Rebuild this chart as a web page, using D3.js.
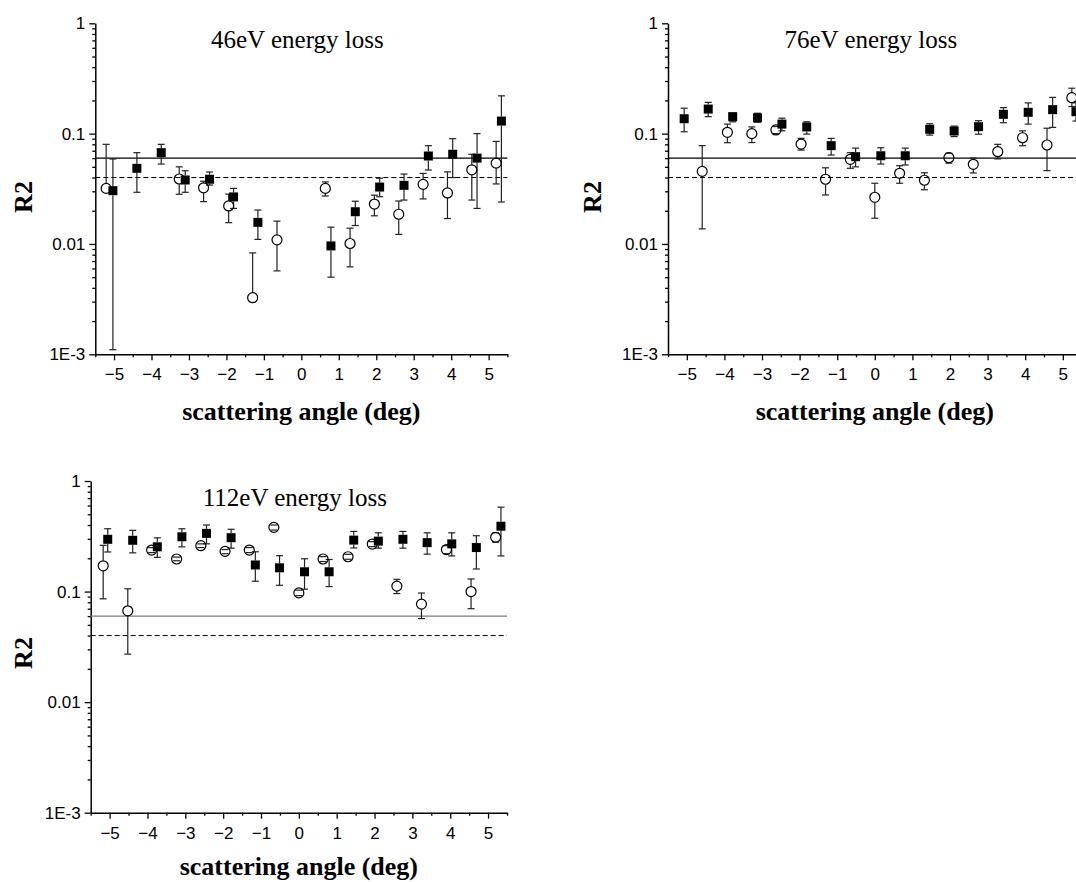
<!DOCTYPE html>
<meta charset="utf-8">
<style>
body { margin: 0; background: #fff; }
svg { display: block; }
.tick text { font-family: "Liberation Sans", Arial, sans-serif; font-size: 17px; }
</style>
<script src="https://d3js.org/d3.v7.min.js"></script>
<body>
<div id="chart"></div>
<script>
// angle (deg), R2, lower end of error bar, upper end (null = no bar drawn)
var sq46 = [
  [-5.03, 0.0304, 0.0011, 0.0589], [-4.39, 0.0485, 0.0294, 0.0672], [-3.74, 0.0672, 0.053, 0.080],
  [-3.10, 0.038, 0.0294, 0.0461], [-2.45, 0.0386, 0.0342, 0.0449], [-1.81, 0.0267, 0.021, 0.0319],
  [-1.16, 0.0157, 0.011, 0.0203], [0.79, 0.0096, 0.0050, 0.0142], [1.44, 0.0196, 0.0147, 0.0244],
  [2.09, 0.0328, 0.0268, 0.0394], [2.74, 0.034, 0.025, 0.043], [3.39, 0.0627, 0.0468, 0.0778],
  [4.04, 0.065, 0.040, 0.090], [4.69, 0.060, 0.021, 0.100], [5.34, 0.130, 0.024, 0.220]
];
var ci46 = [
  [-5.21, 0.0319, null, 0.080], [-3.26, 0.0388, 0.0282, 0.050], [-2.61, 0.0323, 0.0242, 0.037],
  [-1.94, 0.0221, 0.0156, 0.0283], [-1.30, 0.00326, null, 0.0083], [-0.65, 0.0109, 0.0057, 0.0161],
  [0.64, 0.0319, 0.0272, 0.0365], [1.30, 0.0101, 0.0062, 0.0139], [1.95, 0.023, 0.018, 0.0277],
  [2.60, 0.0186, 0.0122, 0.0245], [3.25, 0.0347, 0.0256, 0.0436], [3.90, 0.029, 0.017, 0.045],
  [4.55, 0.047, 0.025, 0.065], [5.20, 0.054, 0.035, 0.085]
];
var sq76 = [
  [-5.07, 0.1365, 0.104, 0.170], [-4.43, 0.167, 0.1425, 0.192], [-3.78, 0.1425, 0.128, 0.153],
  [-3.12, 0.139, 0.127, 0.153], [-2.47, 0.122, 0.106, 0.138], [-1.81, 0.115, 0.099, 0.128],
  [-1.16, 0.0778, 0.064, 0.0906], [-0.51, 0.0618, 0.050, 0.0739], [0.16, 0.063, 0.053, 0.0745],
  [0.81, 0.063, 0.052, 0.0739], [1.46, 0.1094, 0.097, 0.123], [2.11, 0.1056, 0.094, 0.117],
  [2.76, 0.1156, 0.0988, 0.131], [3.42, 0.1496, 0.1256, 0.172], [4.08, 0.156, 0.122, 0.19],
  [4.73, 0.165, 0.114, 0.213], [5.35, 0.158, 0.13, 0.19]
];
var ci76 = [
  [-4.59, 0.0455, 0.0137, 0.0778], [-3.92, 0.1028, 0.0827, 0.122], [-3.27, 0.100, 0.083, 0.115],
  [-2.63, 0.108, 0.100, 0.116], [-1.96, 0.0805, 0.071, 0.0906], [-1.31, 0.0386, 0.0278, 0.049],
  [-0.65, 0.0585, 0.0485, 0.0672], [0.00, 0.0265, 0.0171, 0.0355], [0.66, 0.0437, 0.0355, 0.0512],
  [1.32, 0.0378, 0.031, 0.0442], [1.97, 0.0605, 0.054, 0.0665], [2.62, 0.0527, 0.044, 0.060],
  [3.27, 0.0686, 0.059, 0.080], [3.93, 0.0918, 0.0777, 0.106], [4.58, 0.0789, 0.0462, 0.112],
  [5.24, 0.2118, 0.176, 0.258]
];
var sq112 = [
  [-5.05, 0.297, 0.228, 0.37], [-4.39, 0.291, 0.224, 0.358], [-3.74, 0.254, 0.204, 0.306],
  [-3.09, 0.313, 0.254, 0.37], [-2.44, 0.336, 0.27, 0.40], [-1.79, 0.307, 0.247, 0.366],
  [-1.15, 0.174, 0.124, 0.229], [-0.51, 0.164, 0.114, 0.211], [0.15, 0.151, 0.105, 0.198],
  [0.80, 0.151, 0.111, 0.195], [1.45, 0.292, 0.248, 0.35], [2.10, 0.286, 0.247, 0.34],
  [2.75, 0.297, 0.247, 0.35], [3.39, 0.277, 0.218, 0.34], [4.04, 0.27, 0.21, 0.34],
  [4.69, 0.25, 0.16, 0.32], [5.34, 0.39, 0.21, 0.58]
];
var ci112 = [
  [-5.17, 0.171, 0.086, 0.262], [-4.52, 0.067, 0.0272, 0.106], [-3.89, 0.2375, 0.225, 0.25],
  [-3.23, 0.197, 0.19, 0.205], [-2.59, 0.26, 0.25, 0.27], [-1.95, 0.231, 0.22, 0.24],
  [-1.31, 0.2375, 0.225, 0.25], [-0.66, 0.381, 0.36, 0.40], [0.00, 0.0973, 0.092, 0.103],
  [0.64, 0.197, 0.187, 0.207], [1.30, 0.2065, 0.196, 0.217], [1.94, 0.269, 0.255, 0.283],
  [2.59, 0.112, 0.096, 0.129], [3.24, 0.077, 0.057, 0.097], [3.90, 0.24, 0.22, 0.26],
  [4.55, 0.10, 0.07, 0.13], [5.20, 0.31, 0.28, 0.34]
];

var titles = ["46eV energy loss", "76eV energy loss", "112eV energy loss"];
var xTicks = [-5, -4, -3, -2, -1, 0, 1, 2, 3, 4, 5];
var yTicks = [1, 0.1, 0.01, 0.001];
var yTickLabels = ["1", "0.1", "0.01", "1E-3"];
var refSolid = 0.06, refDashed = 0.04;

var svg = d3.select("#chart").append("svg")
  .attr("width", 1076).attr("height", 882);

// panel boxes: left/right of x axis, top/bottom of y axis
var panels = [
  {x0: 95.3, x1: 507.4, y0: 23.3, y1: 354.3, sq: sq46, ci: ci46, title: titles[0], ylabX: 23, ylabY: 197, xlabDy: 66, solid: "#000"},
  {x0: 668, x1: 1081.6, y0: 23.3, y1: 354.3, sq: sq76, ci: ci76, title: titles[1], ylabX: 592, ylabY: 197, xlabDy: 66, solid: "#000"},
  {x0: 90.7, x1: 507, y0: 481, y1: 812.7, sq: sq112, ci: ci112, title: titles[2], ylabX: 23, ylabY: 653, xlabDy: 62, solid: "#7a7a7a"}
];

panels.forEach(function(p) {
  var x = d3.scaleLinear().domain([-5.5, 5.5]).range([p.x0, p.x1]);
  var y = d3.scaleLog().domain([0.001, 1]).range([p.y1, p.y0]);
  var g = svg.append("g");

  // minor ticks
  var minorX = d3.range(-5.5, 5.51, 1);
  g.append("g").attr("transform", "translate(0," + p.y1 + ")")
    .call(d3.axisBottom(x).tickValues(minorX).tickSize(3).tickFormat(""))
    .call(function(a) { a.select(".domain").remove(); a.selectAll("line").attr("stroke-width", 1.3); });
  var minorY = [];
  [0.001, 0.01, 0.1].forEach(function(d) { for (var k = 2; k < 10; k++) minorY.push(d * k); });
  g.append("g").attr("transform", "translate(" + p.x0 + ",0)")
    .call(d3.axisLeft(y).tickValues(minorY).tickSize(3).tickFormat(""))
    .call(function(a) { a.select(".domain").remove(); a.selectAll("line").attr("stroke-width", 1.3); });

  // major axes
  g.append("g").attr("transform", "translate(0," + p.y1 + ")")
    .call(d3.axisBottom(x).tickValues(xTicks).tickSize(6).tickSizeOuter(0).tickPadding(8))
    .call(function(a) {
      a.select(".domain").attr("stroke-width", 1.5);
      a.selectAll("line").attr("stroke-width", 1.3);
      a.selectAll("text").attr("fill", "#000");
    });
  g.append("g").attr("transform", "translate(" + p.x0 + ",0)")
    .call(d3.axisLeft(y).tickValues(yTicks).tickSize(6).tickSizeOuter(0).tickPadding(4)
      .tickFormat(function(d, i) { return yTickLabels[i]; }))
    .call(function(a) {
      a.select(".domain").attr("stroke-width", 1.5);
      a.selectAll("line").attr("stroke-width", 1.3);
      a.selectAll("text").attr("fill", "#000");
    });

  // reference lines
  g.append("line").attr("x1", p.x0).attr("x2", p.x1)
    .attr("y1", y(refSolid)).attr("y2", y(refSolid))
    .attr("stroke", p.solid).attr("stroke-width", 1.3);
  g.append("line").attr("x1", p.x0).attr("x2", p.x1)
    .attr("y1", y(refDashed)).attr("y2", y(refDashed))
    .attr("stroke", "#000").attr("stroke-width", 1).attr("stroke-dasharray", "5,3");

  // error bars
  function bars(data, r) {
    var eb = g.append("g").attr("stroke", "#222").attr("stroke-width", 1.2);
    data.forEach(function(d) {
      var px = x(d[0]), py = y(d[1]);
      [d[2], d[3]].forEach(function(e) {
        if (e === null) return;
        var pe = y(e);
        var dir = pe < py ? -1 : 1;
        if (Math.abs(pe - py) > r) {
          eb.append("line").attr("x1", px).attr("x2", px)
            .attr("y1", py + dir * r).attr("y2", pe);
        }
        eb.append("line").attr("x1", px - 3.5).attr("x2", px + 3.5)
          .attr("y1", pe).attr("y2", pe);
      });
    });
  }
  bars(p.ci, 5);
  bars(p.sq, 4.5);

  g.append("g").selectAll("circle").data(p.ci).enter().append("circle")
    .attr("cx", function(d) { return x(d[0]); })
    .attr("cy", function(d) { return y(d[1]); })
    .attr("r", 5)
    .attr("fill", "none").attr("stroke", "#000").attr("stroke-width", 1.2);

  g.append("g").selectAll("rect").data(p.sq).enter().append("rect")
    .attr("x", function(d) { return x(d[0]) - 4.5; })
    .attr("y", function(d) { return y(d[1]) - 4.5; })
    .attr("width", 9).attr("height", 9)
    .attr("fill", "#000");

  // title inside the plot
  g.append("text")
    .attr("x", x(0) - 4).attr("y", p.y0 + 25)
    .attr("text-anchor", "middle")
    .style("font-family", "'Liberation Serif', 'Times New Roman', serif")
    .style("font-size", "25px")
    .text(p.title);

  // axis labels
  g.append("text")
    .attr("x", x(0)).attr("y", p.y1 + p.xlabDy)
    .attr("text-anchor", "middle")
    .style("font-family", "'Liberation Serif', 'Times New Roman', serif")
    .style("font-size", "26px").style("font-weight", "bold")
    .text("scattering angle (deg)");
  g.append("text")
    .attr("transform", "translate(" + p.ylabX + "," + p.ylabY + ") rotate(-90)")
    .attr("text-anchor", "middle").attr("dominant-baseline", "central")
    .style("font-family", "'Liberation Serif', 'Times New Roman', serif")
    .style("font-size", "26px").style("font-weight", "bold")
    .text("R2");
});
</script>
</body>
